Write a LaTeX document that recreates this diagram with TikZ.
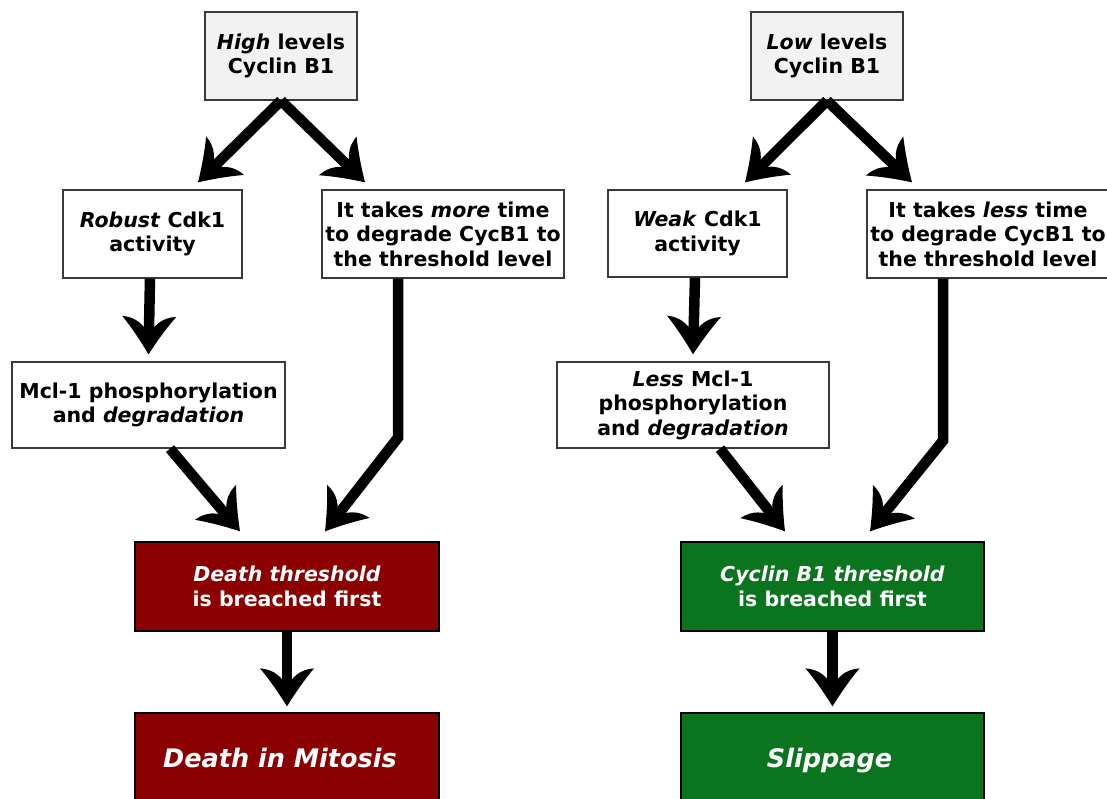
\documentclass[tikz,border=0pt]{standalone}
\usepackage{fontspec}
\setmainfont{DejaVu Sans}
\usetikzlibrary{arrows.meta}
\definecolor{deathred}{HTML}{8B0000}
\definecolor{slipgreen}{HTML}{0B741E}
\definecolor{topgray}{HTML}{F2F2F2}
\definecolor{edgegray}{HTML}{3A3A3A}
\pgfdeclarearrow{
  name = Curvy,
  setup code = {
    \pgfarrowssettipend{0pt}
    \pgfarrowssetlineend{-16pt}
    \pgfarrowssetvisualbackend{-38pt}
    \pgfarrowssetbackend{-38pt}
    \pgfarrowshullpoint{0pt}{0pt}
    \pgfarrowshullpoint{-38pt}{27pt}
    \pgfarrowshullpoint{-38pt}{-27pt}
  },
  drawing code = {
    \pgfpathmoveto{\pgfpoint{0pt}{0pt}}
    \pgfpathcurveto{\pgfpoint{-13pt}{8pt}}{\pgfpoint{-26pt}{17pt}}{\pgfpoint{-38pt}{27pt}}
    \pgfpathcurveto{\pgfpoint{-37pt}{13pt}}{\pgfpoint{-29pt}{4pt}}{\pgfpoint{-18pt}{0pt}}
    \pgfpathcurveto{\pgfpoint{-29pt}{-4pt}}{\pgfpoint{-37pt}{-13pt}}{\pgfpoint{-38pt}{-27pt}}
    \pgfpathcurveto{\pgfpoint{-26pt}{-17pt}}{\pgfpoint{-13pt}{-8pt}}{\pgfpoint{0pt}{0pt}}
    \pgfpathclose
    \pgfusepathqfill
  }
}
\tikzset{
  box/.style={draw=edgegray, line width=1.3pt, fill=white, inner sep=0pt, align=center,
    font=\fontsize{20.5}{24.5}\selectfont\bfseries, text=black},
  topbox/.style={box, fill=topgray},
  redbox/.style={box, draw=black, fill=deathred, text=white},
  greenbox/.style={box, draw=black, fill=slipgreen, text=white},
  bigtext/.style={font=\fontsize{25.5}{30}\selectfont\bfseries\itshape},
  arr/.style={line width=10.5pt, -{Curvy}, black}
}
\begin{document}
\begin{tikzpicture}[x=1pt,y=-1pt]
\useasboundingbox (0,0) rectangle (1107,798);
% left column
\node[topbox, minimum width=152pt, minimum height=88pt] (topL) at (281,56) {\textit{High} levels\\Cyclin B1};
\node[box, minimum width=179pt, minimum height=88pt] (robust) at (152.5,234) {\textit{Robust} Cdk1\\activity};
\node[box, minimum width=242pt, minimum height=88pt] (more) at (443,234) {It takes \textit{more} time\\to degrade CycB1 to\\the threshold level};
\node[box, minimum width=273pt, minimum height=86pt] (mcl) at (148.5,405) {Mcl-1 phosphorylation\\and \textit{degradation}};
\node[redbox, minimum width=304pt, minimum height=89pt] (deathT) at (287,586.5) {\textit{Death threshold}\\is breached first};
\node[redbox, bigtext, minimum width=304pt, minimum height=89pt, text depth=0pt] (deathM) at (287,757.5) {\hspace{-14pt}Death in Mitosis};
% right column
\node[topbox, minimum width=152pt, minimum height=88pt] (topR) at (827,56) {\textit{Low} levels\\Cyclin B1};
\node[box, minimum width=179pt, minimum height=87pt] (weak) at (697.5,233.5) {\textit{Weak} Cdk1\\activity};
\node[box, minimum width=242pt, minimum height=88pt] (less) at (988,234) {It takes \textit{less} time\\to degrade CycB1 to\\the threshold level};
\node[box, minimum width=272pt, minimum height=86pt] (lmcl) at (693,405) {\textit{Less} Mcl-1\\phosphorylation\\and \textit{degradation}};
\node[greenbox, minimum width=303pt, minimum height=89pt] (cycT) at (832.5,586.5) {\textit{Cyclin B1 threshold}\\is breached first};
\node[greenbox, bigtext, minimum width=303pt, minimum height=89pt, text depth=0pt] (slip) at (832.5,757.5) {\hspace{-6pt}Slippage};
% left arrows
\draw[arr] (topL.south) -- ([shift={(45.5pt,7pt)}]robust.north);
\draw[arr] (topL.south) -- ([shift={(-78pt,7pt)}]more.north);
\draw[arr] ([xshift=-2.5pt]robust.south) -- ([yshift=7pt]mcl.north);
\draw[arr] ([xshift=21.5pt]mcl.south) -- ([shift={(-47pt,10pt)}]deathT.north);
\draw[arr] ([xshift=-45pt]more.south) -- ++(0,159) -- ([shift={(38pt,10pt)}]deathT.north);
\draw[arr] (deathT.south) -- ([yshift=6pt]deathM.north);
% right arrows
\draw[arr] (topR.south) -- ([shift={(47.5pt,7pt)}]weak.north);
\draw[arr] (topR.south) -- ([shift={(-76pt,7pt)}]less.north);
\draw[arr] ([xshift=-2.5pt]weak.south) -- ([yshift=7pt]lmcl.north);
\draw[arr] ([xshift=27pt]lmcl.south) -- ([shift={(-47.5pt,10pt)}]cycT.north);
\draw[arr] ([xshift=-45pt]less.south) -- ++(0,162) -- ([shift={(37.5pt,10pt)}]cycT.north);
\draw[arr] (cycT.south) -- ([yshift=6pt]slip.north);
\end{tikzpicture}
\end{document}
